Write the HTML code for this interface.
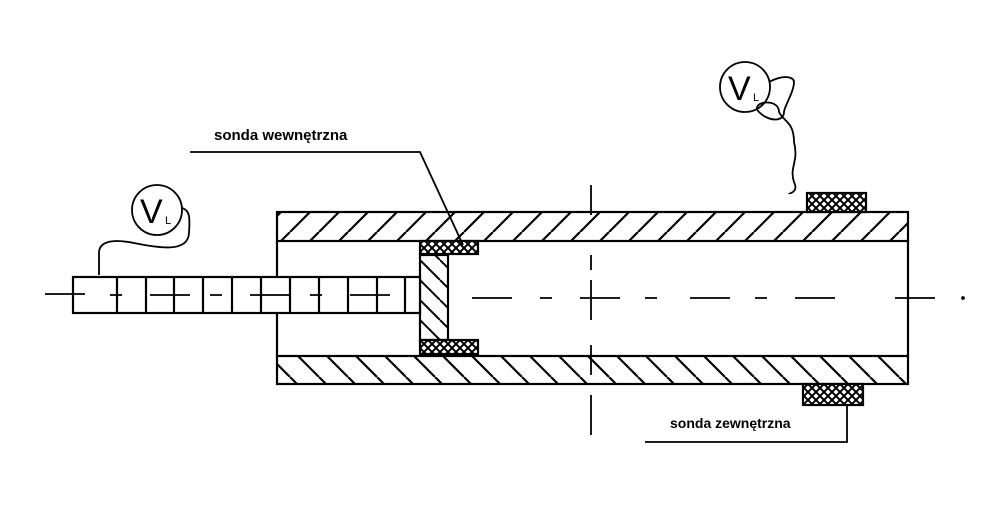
<!DOCTYPE html>
<html><head><style>html,body{margin:0;padding:0;background:#fff}svg{display:block}</style></head>
<body>
<svg width="990" height="515" viewBox="0 0 990 515" xmlns="http://www.w3.org/2000/svg">
<defs>
<pattern id="hf" patternUnits="userSpaceOnUse" width="29" height="29" patternTransform="skewX(0)">
<line x1="0" y1="29" x2="29" y2="0" stroke="#000" stroke-width="2.2"/>
<line x1="-29" y1="29" x2="0" y2="0" stroke="#000" stroke-width="2.2"/>
<line x1="29" y1="29" x2="58" y2="0" stroke="#000" stroke-width="2.2"/>
</pattern>
<pattern id="hb" patternUnits="userSpaceOnUse" width="29" height="29">
<line x1="0" y1="0" x2="29" y2="29" stroke="#000" stroke-width="2.2"/>
<line x1="-29" y1="0" x2="0" y2="29" stroke="#000" stroke-width="2.2"/>
<line x1="29" y1="0" x2="58" y2="29" stroke="#000" stroke-width="2.2"/>
</pattern>
<pattern id="hs" patternUnits="userSpaceOnUse" width="20" height="20">
<line x1="0" y1="0" x2="20" y2="20" stroke="#000" stroke-width="2"/>
<line x1="-20" y1="0" x2="0" y2="20" stroke="#000" stroke-width="2"/>
<line x1="20" y1="0" x2="40" y2="20" stroke="#000" stroke-width="2"/>
</pattern>
<pattern id="coil" patternUnits="userSpaceOnUse" width="8" height="8">
<rect width="8" height="8" fill="#fff"/>
<path d="M0 0 L8 8 M8 0 L0 8" stroke="#000" stroke-width="2"/>
</pattern>
</defs>
<g fill="none" stroke="#000" stroke-width="2.2">
<!-- tube walls -->
<rect x="277" y="212" width="631" height="29" fill="url(#hf)"/>
<rect x="277" y="356" width="631" height="28" fill="url(#hb)"/>
<line x1="277" y1="241" x2="277" y2="356"/>
<line x1="908" y1="241" x2="908" y2="356"/>
<!-- plunger -->
<rect x="420" y="255" width="28" height="85" fill="url(#hs)"/>
<rect x="420" y="241" width="58" height="13" fill="url(#coil)"/>
<rect x="420" y="340" width="58" height="14" fill="url(#coil)"/>
<!-- rod -->
<rect x="73" y="277" width="347" height="36" fill="#fff"/>
<path d="M117 277v36M146 277v36M174 277v36M203 277v36M232 277v36M261 277v36M290 277v36M319 277v36M348 277v36M377 277v36M405 277v36"/>
<!-- outer coils -->
<rect x="807" y="193" width="59" height="19" fill="url(#coil)"/>
<rect x="803" y="384" width="60" height="21" fill="url(#coil)"/>
</g>
<g stroke="#000" stroke-width="1.8" fill="none">
<!-- center line -->
<path d="M45 294h40M110 295h12M150 295h40M210 295h12M250 295h40M310 295h12M350 295h40M472 298h40M540 298h12M580 298h40M645 298h12M690 298h40M755 298h12M795 298h40M895 298h40" />
<circle cx="963" cy="298" r="1"/>
<path d="M591 185v30M591 255v15M591 280v40M591 345v30M591 395v40"/>
<!-- leaders -->
<path d="M190 152H420L463 245"/>
<path d="M645 442H847V405"/>
<!-- wires -->
<circle cx="157" cy="210" r="25" fill="#fff"/>
<path d="M182 208c8 2 8 10 7 25c-1 20-30 15-55 10c-25-5-35 0-35 10v22"/>
<circle cx="745" cy="87" r="25" fill="#fff"/>
<path d="M769 82c15-8 25-5 25 0c0 10-10 25-10 30c0 10-15 10-25 0c-10-10 20-15 20 0c5 10 15 10 15 30c5 20-5 25 0 40c5 10 -5 12 -5 11"/>
</g>
<g font-family="Liberation Sans, sans-serif" fill="#000">
<text x="140" y="223" font-size="34">V</text><text x="165" y="224" font-size="11">L</text>
<text x="728" y="100" font-size="34">V</text><text x="753" y="101" font-size="11">L</text>
<text x="214" y="140" font-size="15" font-weight="bold">sonda wewnętrzna</text>
<text x="670" y="428" font-size="14" font-weight="bold">sonda zewnętrzna</text>
</g>
</svg>
</body></html>
